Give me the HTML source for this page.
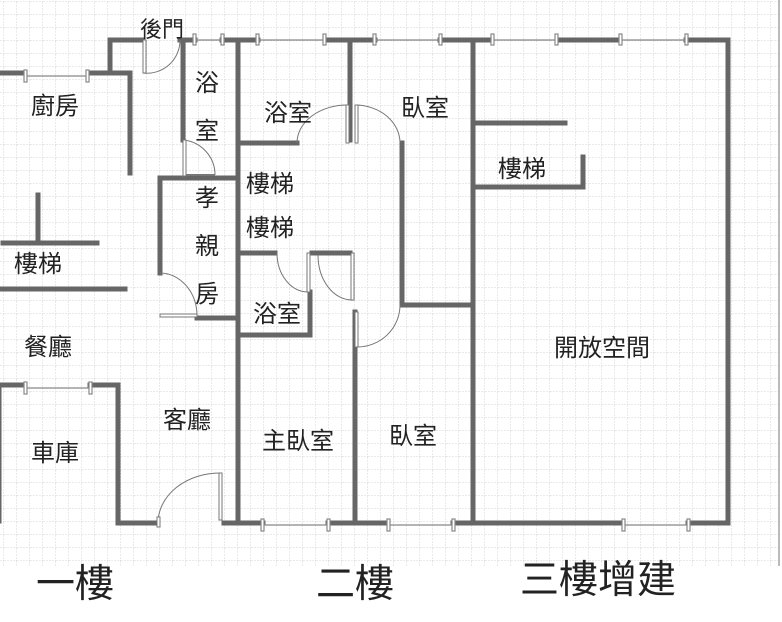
<!DOCTYPE html>
<html><head><meta charset="utf-8"><style>
html,body{margin:0;padding:0;background:#fff;}
svg{display:block;}
text{font-family:"Liberation Sans","Noto Sans CJK TC",sans-serif;fill:#222;}
</style></head><body>
<svg width="782" height="622" viewBox="0 0 782 622" xmlns="http://www.w3.org/2000/svg">
<defs>
<pattern id="g" width="13" height="13" patternUnits="userSpaceOnUse" x="4" y="2">
<path d="M13 0V13M0 13H13" fill="none" stroke="#d6d6d6" stroke-width="1" stroke-dasharray="2,1"/>
</pattern>
</defs>
<rect x="0" y="0" width="778" height="566" fill="url(#g)"/>
<line x1="779" y1="0" x2="779" y2="566" stroke="#bbb" stroke-width="2"/>

<g stroke="#666" stroke-width="5" fill="none" stroke-linecap="square">
<path d="M110 72V40H143"/>
<path d="M180 40H195M222 40H258M325 40H375M440 40H492M557 40H620M686 40H728V522"/>
<path d="M0 73H25M88 73H130V173"/>
<path d="M183 40V140"/>
<path d="M238 40V522"/>
<path d="M160 178H238"/>
<path d="M160 178V273"/>
<path d="M197 318H238"/>
<path d="M38 195V243M3 243H97M0 289H125"/>
<path d="M0 385H25M90 385H118V523H158"/>
<path d="M0 385V522" stroke-width="3"/>
<path d="M224 523H263M328 523H388M453 523H623M688 523H728"/>
<path d="M238 143H297"/>
<path d="M350 40V140"/>
<path d="M402 143V305H473"/>
<path d="M473 40V522"/>
<path d="M473 123H565M473 187H583V157"/>
<path d="M238 253H275M312 253H350"/>
<path d="M310 292V335H240"/>
<path d="M355 312V522"/>
</g>
<g stroke="#888" stroke-width="1.2" fill="#fff">
<line x1="195" y1="40" x2="222" y2="40"/><line x1="258" y1="40" x2="325" y2="40"/>
<line x1="375" y1="40" x2="440" y2="40"/><line x1="492" y1="40" x2="557" y2="40"/>
<line x1="620" y1="40" x2="686" y2="40"/><line x1="25" y1="76" x2="88" y2="76"/>
<line x1="25" y1="388" x2="90" y2="388"/><line x1="263" y1="525" x2="328" y2="525"/>
<line x1="388" y1="525" x2="453" y2="525"/><line x1="623" y1="525" x2="688" y2="525"/>
<g>
<rect x="193" y="34" width="3" height="11"/><rect x="221" y="34" width="3" height="11"/>
<rect x="256" y="34" width="3" height="11"/><rect x="323" y="34" width="3" height="11"/>
<rect x="373" y="34" width="3" height="11"/><rect x="439" y="34" width="3" height="11"/>
<rect x="491" y="34" width="3" height="11"/><rect x="555" y="34" width="3" height="11"/>
<rect x="619" y="34" width="3" height="11"/><rect x="685" y="34" width="3" height="11"/>
<rect x="24" y="70" width="3" height="12"/><rect x="86" y="70" width="3" height="12"/>
<rect x="24" y="382" width="3" height="12"/><rect x="89" y="382" width="3" height="12"/>
<rect x="261" y="519" width="3" height="12"/><rect x="327" y="519" width="3" height="12"/>
<rect x="387" y="519" width="3" height="12"/><rect x="452" y="519" width="3" height="12"/>
<rect x="622" y="519" width="3" height="12"/><rect x="687" y="519" width="3" height="12"/>
</g>
</g>
<g stroke="#777" stroke-width="1" fill="none">
<path d="M143 73A33 33 0 0 0 180 40"/><rect x="143" y="40" width="3" height="33" fill="#fff"/>
<path d="M183 140A35 35 0 0 1 215 175"/><rect x="183" y="140" width="3" height="36" fill="#fff"/><line x1="186" y1="175" x2="215" y2="175" stroke-width="2"/>
<path d="M160 273A37 43 0 0 1 197 316"/><rect x="160" y="314" width="37" height="3" fill="#fff"/>
<path d="M158 523A62 50 0 0 1 220 473"/><rect x="219" y="473" width="3" height="47" fill="#fff"/><rect x="157" y="517" width="3" height="10" fill="#fff"/>
<path d="M297 143A50 38 0 0 1 347 105"/><rect x="346" y="105" width="3" height="38" fill="#fff"/>
<path d="M355 105A45 38 0 0 1 400 143"/><rect x="355" y="105" width="3" height="38" fill="#fff"/>
<path d="M277 253A31 39 0 0 0 308 292"/><rect x="307" y="253" width="3" height="39" fill="#fff"/>
<path d="M318 255A34 45 0 0 0 352 300"/><rect x="351" y="253" width="3" height="47" fill="#fff"/>
<path d="M400 305A43 42 0 0 1 357 347"/><rect x="355" y="312" width="3" height="35" fill="#fff"/>
</g>
<g font-size="24" text-anchor="middle">
<text x="162" y="37" font-size="22">後門</text>
<text x="55" y="114">廚房</text>
<text x="207" y="91">浴</text><text x="207" y="139">室</text>
<text x="288" y="121">浴室</text>
<text x="425" y="116">臥室</text>
<text x="522" y="177">樓梯</text>
<text x="270" y="192">樓梯</text><text x="270" y="236">樓梯</text>
<text x="207" y="206">孝</text><text x="207" y="254">親</text><text x="207" y="302">房</text>
<text x="38" y="272">樓梯</text>
<text x="277" y="322">浴室</text>
<text x="48" y="355">餐廳</text>
<text x="602" y="356">開放空間</text>
<text x="187" y="428">客廳</text>
<text x="55" y="461">車庫</text>
<text x="298" y="449">主臥室</text>
<text x="413" y="444">臥室</text>
</g>
<g font-size="39" text-anchor="middle">
<text x="75" y="597">一樓</text>
<text x="355" y="597">二樓</text>
<text x="598" y="593">三樓增建</text>
</g>
</svg>
</body></html>
